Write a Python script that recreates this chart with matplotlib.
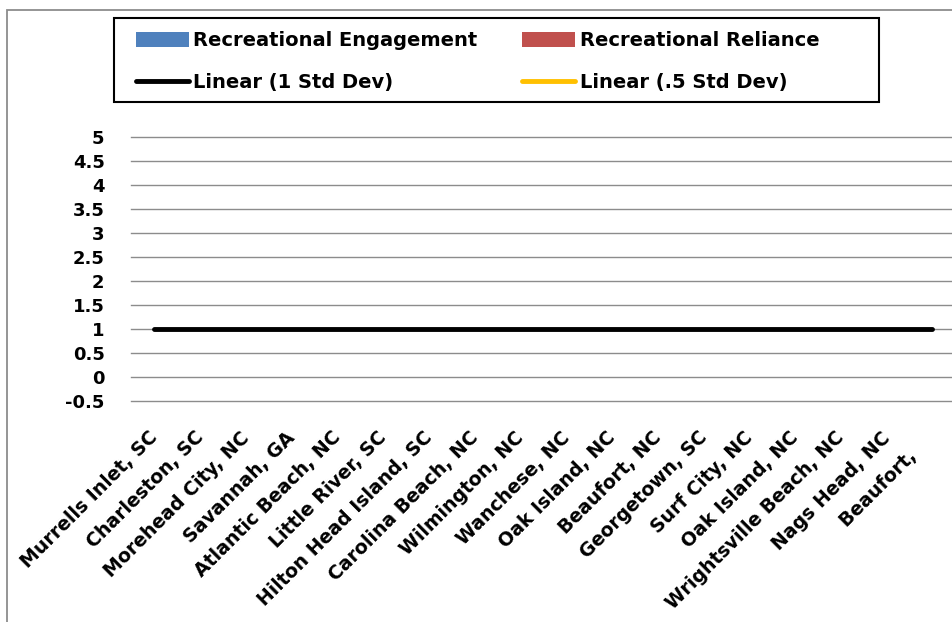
import matplotlib
matplotlib.use("Agg")
import matplotlib.pyplot as plt
from matplotlib.patches import Rectangle, Patch
from matplotlib.lines import Line2D
import matplotlib.transforms as mtransforms
import numpy as np

categories = ["Murrells Inlet, SC", "Charleston, SC", "Morehead City, NC", "Savannah, GA",
              "Atlantic Beach, NC", "Little River, SC", "Hilton Head Island, SC",
              "Carolina Beach, NC", "Wilmington, NC", "Wanchese, NC", "Oak Island, NC",
              "Beaufort, NC", "Georgetown, SC", "Surf City, NC", "Oak Island, NC",
              "Wrightsville Beach, NC", "Nags Head, NC", "Beaufort,    "]
rec_engagement = [0, 0, 0, 0, 0, 0, 0, 0, 0, 0, 0, 0, 0, 0, 0, 0, 0, 0]
rec_reliance = [0, 0, 0, 0, 0, 0, 0, 0, 0, 0, 0, 0, 0, 0, 0, 0, 0, 0]
std_dev_1 = [1, 1, 1, 1, 1, 1, 1, 1, 1, 1, 1, 1, 1, 1, 1, 1, 1, 1]
std_dev_half = [np.nan] * 18
y_ticks = [-0.5, 0, 0.5, 1, 1.5, 2, 2.5, 3, 3.5, 4, 4.5, 5]
y_tick_labels = ["-0.5", "0", "0.5", "1", "1.5", "2", "2.5", "3", "3.5", "4", "4.5", "5"]

W, H = 952, 622
fig = plt.figure(figsize=(W / 100, H / 100), dpi=100)

def fx(px):
    return px / W

def fy(py):
    return 1 - py / H

# outer chart border (partly cropped)
fig.patches.append(Rectangle((fx(7), -0.1), 1.2, fy(10) + 0.1, transform=fig.transFigure,
                             fill=False, edgecolor="#8c8c8c", linewidth=1.3, clip_on=False))

ax = fig.add_axes([fx(131), fy(401), (955 - 131) / W, (401 - 137) / H])
x = np.arange(len(categories))
bw = 0.35
ax.bar(x - bw / 2, rec_engagement, bw, color="#4f81bd", linewidth=0, label="Recreational Engagement")
ax.bar(x + bw / 2, rec_reliance, bw, color="#c0504d", linewidth=0, label="Recreational Reliance")
ax.plot(x, std_dev_1, color="black", linewidth=3.5, solid_capstyle="round", zorder=4)
ax.plot(x, std_dev_half, color="#ffc000", linewidth=3.5, solid_capstyle="round", zorder=3)

ax.set_xlim(-0.5, len(categories) - 0.5)
ax.set_ylim(-0.5, 5)
ax.set_yticks(y_ticks)
ax.set_yticklabels(y_tick_labels, fontfamily="DejaVu Sans", fontweight="bold", fontsize=13)
ax.yaxis.grid(True, color="#8c8c8c", linewidth=1.0)
for gl in ax.yaxis.get_gridlines():
    gl.set_clip_on(False)
ax.set_axisbelow(True)
for s in ax.spines.values():
    s.set_visible(False)
ax.tick_params(axis="y", length=0, pad=19)
ax.tick_params(axis="x", length=0, pad=0)
ax.set_xticks(x)
ax.set_xticklabels(categories, rotation=45, ha="right", va="top", rotation_mode="anchor",
                   fontfamily="DejaVu Sans", fontweight="bold", fontsize=13.6)
offset = mtransforms.ScaledTranslation(-0.06, -0.27, fig.dpi_scale_trans)
for lab in ax.get_xticklabels():
    lab.set_transform(lab.get_transform() + offset)

# legend frame and legend
fig.patches.append(Rectangle((fx(114), fy(102)), (879 - 114) / W, (102 - 18) / H,
                             transform=fig.transFigure, fill=False, edgecolor="black",
                             linewidth=1.5))
handles = [Patch(facecolor="#4f81bd", edgecolor="none"),
           Line2D([], [], color="black", linewidth=3.5, solid_capstyle="round"),
           Patch(facecolor="#c0504d", edgecolor="none"),
           Line2D([], [], color="#ffc000", linewidth=3.5, solid_capstyle="round")]
labels = ["Recreational Engagement", "Linear (1 Std Dev)",
          "Recreational Reliance", "Linear (.5 Std Dev)"]
fig.legend(handles, labels, ncol=2, loc="upper left", bbox_to_anchor=(fx(136), fy(31)),
           frameon=False, borderpad=0, borderaxespad=0,
           prop={"family": "DejaVu Sans", "weight": "bold", "size": 14},
           handlelength=2.7, handleheight=0.8, handletextpad=0.25,
           labelspacing=1.2, columnspacing=2.3)

fig.savefig("out.png", dpi=100)
